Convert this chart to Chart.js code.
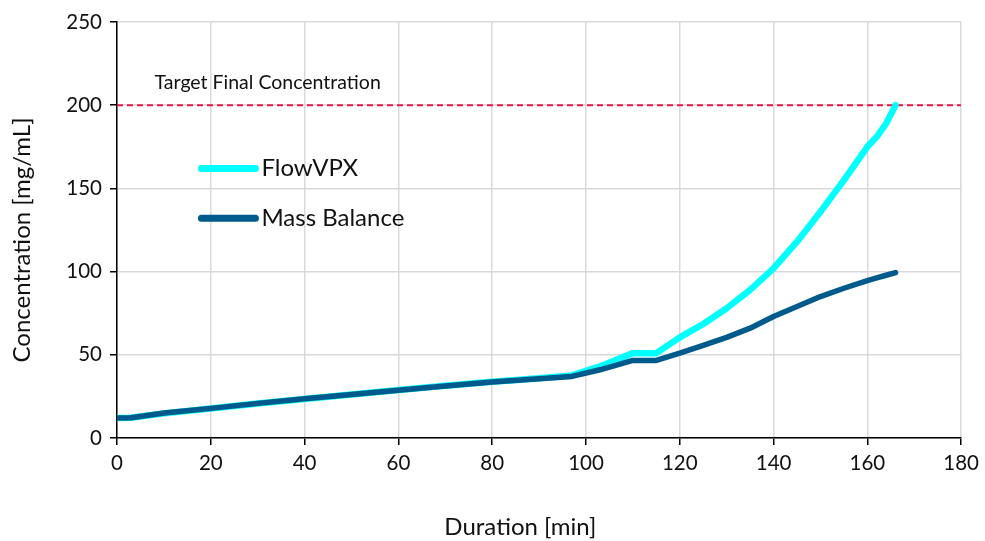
<!DOCTYPE html>
<html>
<head>
<meta charset="utf-8">
<script src="https://cdn.jsdelivr.net/npm/chart.js@4"></script>
<style>
  html, body { margin: 0; padding: 0; background: #fff; }
  #wrap { width: 985px; height: 541px; }
</style>
</head>
<body>
<div id="wrap"><canvas id="chart" width="985" height="541"></canvas></div>
<script>
// durations in minutes
const duration = [0, 3, 10, 20, 30, 40, 50, 60, 70, 80, 90, 97, 103, 110, 115, 120, 125, 130, 135, 140, 145, 150, 155, 160, 162, 164, 166];
const flowVPX = [12, 12.2, 14.8, 17.7, 20.7, 23.5, 26.2, 28.8, 31.4, 33.8, 35.9, 37.6, 43, 51, 51, 60.5, 68.5, 78, 89, 102, 118, 136, 155, 175, 181, 189, 200];
const massBalance = [12, 12.2, 15, 17.8, 20.8, 23.6, 26.2, 28.7, 31.3, 33.6, 35.6, 37, 41, 46.6, 46.6, 51, 55.7, 60.5, 66, 73, 79, 85, 90, 94.6, 96.2, 97.8, 99.4];
const targetConc = 200;
const targetLabel = 'Target Final Concentration';
const xTitle = 'Duration [min]';
const yTitle = 'Concentration [mg/mL]';
const xTicks = [0, 20, 40, 60, 80, 100, 120, 140, 160, 180];
const yTicks = [0, 50, 100, 150, 200, 250];

const FONT = 'Lato, "Open Sans", sans-serif';
const CYAN = '#00FFFF';
const NAVY = '#005A8C';
const RED = '#E8174A';

const toXY = (xs, ys) => xs.map((x, i) => ({ x: x, y: ys[i] }));

// legend, target text and axis titles (titles sit a bit off-centre in the original)
const overlay = {
    id: 'overlay',
    afterDraw(chart) {
        const ctx = chart.ctx;
        const xs = chart.scales.x, ys = chart.scales.y;
        ctx.save();
        ctx.fillStyle = '#111';
        ctx.font = '19.5px ' + FONT;
        ctx.textBaseline = 'alphabetic';
        ctx.fillText(targetLabel, xs.getPixelForValue(8), ys.getPixelForValue(targetConc) - 16);

        const items = [['FlowVPX', CYAN], ['Mass Balance', NAVY]];
        items.forEach((it, i) => {
            const y = ys.getPixelForValue(162 - i * 30);
            const x0 = xs.getPixelForValue(18);
            ctx.strokeStyle = it[1];
            ctx.lineWidth = 7;
            ctx.lineCap = 'round';
            ctx.beginPath();
            ctx.moveTo(x0, y);
            ctx.lineTo(x0 + 54, y);
            ctx.stroke();
            ctx.fillStyle = '#111';
            ctx.font = '24px ' + FONT;
            ctx.textBaseline = 'middle';
            ctx.fillText(it[0], x0 + 60, y);
        });

        ctx.font = '24px ' + FONT;
        ctx.textAlign = 'center';
        ctx.textBaseline = 'middle';
        ctx.fillText(xTitle, xs.getPixelForValue(86), 527);
        ctx.translate(22, ys.getPixelForValue(119));
        ctx.rotate(-Math.PI / 2);
        ctx.fillText(yTitle, 0, 0);
        ctx.restore();
    }
};

new Chart(document.getElementById('chart'), {
    type: 'line',
    data: {
        datasets: [{
            label: 'Mass Balance',
            data: toXY(duration, massBalance),
            borderColor: NAVY,
            borderWidth: 5.5,
            pointRadius: 0,
            borderCapStyle: 'round',
            borderJoinStyle: 'round'
        }, {
            label: 'FlowVPX',
            data: toXY(duration, flowVPX),
            borderColor: CYAN,
            borderWidth: 6.5,
            pointRadius: 0,
            borderCapStyle: 'round',
            borderJoinStyle: 'round'
        }, {
            label: 'Target',
            data: [{ x: 0, y: targetConc }, { x: 180, y: targetConc }],
            borderColor: RED,
            borderWidth: 2,
            borderDash: [6, 4],
            pointRadius: 0
        }]
    },
    options: {
        responsive: false,
        animation: false,
        layout: { padding: { left: 0, right: 23, top: 22, bottom: 0 } },
        plugins: { legend: { display: false }, tooltip: { enabled: false } },
        scales: {
            x: {
                type: 'linear',
                min: 0, max: 180,
                afterBuildTicks: s => { s.ticks = xTicks.map(v => ({ value: v })); },
                afterFit: s => { s.height = 103; },
                grid: { color: '#D9D9D9', lineWidth: 1.5, tickLength: 7, tickColor: '#000' },
                border: { color: '#000', width: 1.5 },
                ticks: { color: '#111', font: { family: FONT, size: 20.5 }, padding: 6 }
            },
            y: {
                min: 0, max: 250,
                afterBuildTicks: s => { s.ticks = yTicks.map(v => ({ value: v })); },
                afterFit: s => { s.width = 117; },
                grid: { color: '#D9D9D9', lineWidth: 1.5, tickLength: 7, tickColor: '#000' },
                border: { color: '#000', width: 1.5 },
                ticks: { color: '#111', font: { family: FONT, size: 20.5 }, padding: 8 }
            }
        }
    },
    plugins: [overlay]
});
</script>
</body>
</html>
